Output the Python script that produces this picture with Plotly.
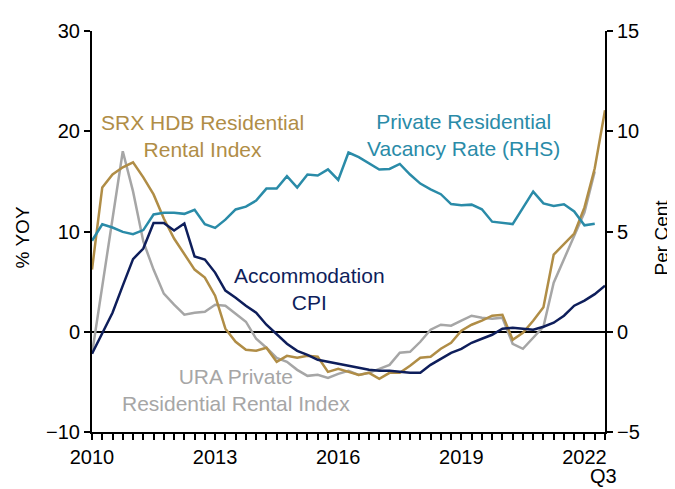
import plotly.graph_objects as go

# quarterly data, 2010Q1 .. 2022Q3
quarters = [f"{y}Q{q}" for y in range(2010, 2023) for q in range(1, 5)][:51]

srx_hdb = [6.2, 14.4, 15.7, 16.4, 16.9, 15.4, 13.7, 11.3, 9.3, 7.7,
           6.2, 5.4, 3.6, 0.3, -1.0, -1.8, -1.9, -1.6, -3.0, -2.4,
           -2.6, -2.4, -2.5, -4.0, -3.7, -4.0, -4.3, -4.1, -4.7, -4.1,
           -4.1, -3.4, -2.6, -2.5, -1.7, -1.1, 0.1, 0.7, 1.1, 1.6,
           1.7, -0.8, -0.1, 1.1, 2.45, 7.7, 8.8, 9.8, 12.4, 16.3,
           22.1]

accom_cpi = [-2.2, -0.1, 1.9, 4.6, 7.25, 8.3, 10.85, 10.85, 10.1, 10.8,
             7.5, 7.2, 5.9, 4.1, 3.4, 2.6, 1.9, 0.7, -0.3, -1.2,
             -1.9, -2.3, -2.8, -3.0, -3.2, -3.4, -3.6, -3.8, -3.9, -3.9,
             -4.0, -4.1, -4.1, -3.3, -2.7, -2.1, -1.7, -1.1, -0.7, -0.3,
             0.3, 0.4, 0.3, 0.2, 0.5, 0.9, 1.6, 2.6, 3.1, 3.75,
             4.6]

ura_private = [-2.2, 4.5, 11.5, 18.0, 14.0, 9.0, 6.2, 3.8, 2.7, 1.7,
               1.9, 2.0, 2.7, 2.6, 1.8, 1.0, -0.7, -1.6, -2.6, -3.0,
               -3.8, -4.4, -4.3, -4.6, -4.2, -3.9, -4.3, -4.1, -3.7, -3.3,
               -2.1, -2.0, -1.0, 0.2, 0.7, 0.6, 1.1, 1.6, 1.4, 1.3,
               1.4, -1.2, -1.7, -0.6, 0.5, 4.9, 7.2, 9.6, 11.9, 16.0]

vacancy = [4.54, 5.36, 5.2, 4.98, 4.87, 5.07, 5.85, 5.93, 5.93, 5.88,
           6.08, 5.36, 5.18, 5.59, 6.1, 6.24, 6.54, 7.14, 7.14, 7.76,
           7.19, 7.84, 7.79, 8.1, 7.57, 8.94, 8.71, 8.41, 8.09, 8.12,
           8.37, 7.84, 7.39, 7.1, 6.86, 6.37, 6.31, 6.34, 6.11, 5.49,
           5.42, 5.37, 6.18, 6.99, 6.4, 6.27, 6.36, 6.0, 5.31, 5.39]

year_ticks = [2010, 2013, 2016, 2019, 2022]

# quarter label -> fractional year for the numeric x axis
x = [int(q[:4]) + (int(q[-1]) - 1) / 4 for q in quarters]

GOLD = '#B08D46'
TEAL = '#2A8BA8'
NAVY = '#0E1E5B'
GRAY = '#A6A6A6'
FONT = 'Liberation Sans, Arial, sans-serif'

# page body has an 8px margin, so the figure is 8px smaller than the window
L, T, PW, PH = 84, 16, 513, 408

fig = go.Figure()

fig.add_trace(go.Scatter(x=x[:len(vacancy)], y=vacancy, mode='lines', yaxis='y2',
                         line=dict(color=TEAL, width=2.5), name='Vacancy'))
fig.add_trace(go.Scatter(x=x[:len(ura_private)], y=ura_private, mode='lines',
                         line=dict(color=GRAY, width=2.5), name='URA'))
fig.add_trace(go.Scatter(x=x, y=srx_hdb, mode='lines',
                         line=dict(color=GOLD, width=2.5), name='SRX'))
fig.add_trace(go.Scatter(x=x, y=accom_cpi, mode='lines',
                         line=dict(color=NAVY, width=2.5), name='CPI'))

fig.update_layout(
    width=667, height=481,
    margin=dict(l=L, r=667 - L - PW, t=T, b=481 - T - PH),
    plot_bgcolor='white', paper_bgcolor='white',
    showlegend=False,
    font=dict(family=FONT, size=20, color='black'),
    xaxis=dict(
        range=[2010, 2022.5],
        tickvals=year_ticks,
        ticktext=[str(v) for v in year_ticks],
        ticks='outside', ticklen=6, tickwidth=1.5, tickcolor='black',
        minor=dict(ticks='outside', dtick=0.25, tick0=2010, ticklen=6,
                   tickwidth=1.5, tickcolor='black'),
        showline=True, linecolor='black', linewidth=2,
        showgrid=False, zeroline=False,
        tickfont=dict(size=20),
    ),
    yaxis=dict(
        range=[-10, 30], dtick=10,
        ticks='outside', ticklen=6, tickwidth=1.5, tickcolor='black',
        showline=True, linecolor='black', linewidth=2,
        showgrid=False,
        zeroline=True, zerolinecolor='black', zerolinewidth=1.5,
        tickfont=dict(size=20),
    ),
    yaxis2=dict(
        range=[-5, 15], dtick=5,
        overlaying='y', side='right',
        ticks='outside', ticklen=6, tickwidth=1.5, tickcolor='black',
        showline=True, linecolor='black', linewidth=2,
        showgrid=False, zeroline=False,
        tickfont=dict(size=20),
    ),
)


def paper_x(px):
    return (px - 92) / PW


def paper_y(py):
    return (432 - py) / PH


# series labels (centres in window pixels)
labels = [
    ("SRX HDB Residential<br>Rental Index", GOLD, 202, 131),
    ("Private Residential<br>Vacancy Rate (RHS)", TEAL, 463, 130),
    ("Accommodation<br>CPI", NAVY, 309, 287),
    ("URA Private<br>Residential Rental Index", GRAY, 236, 389),
]
for text, color, px_x, px_y in labels:
    fig.add_annotation(text=text, xref='paper', yref='paper',
                       x=paper_x(px_x), y=paper_y(px_y),
                       xanchor='center', yanchor='middle',
                       showarrow=False, align='center',
                       font=dict(size=21, color=color, family=FONT))

# axis titles and the end-quarter marker
fig.add_annotation(text='% YOY', xref='paper', yref='paper',
                   x=paper_x(22), y=paper_y(234), textangle=-90,
                   xanchor='center', yanchor='middle',
                   showarrow=False, font=dict(size=19, family=FONT))
fig.add_annotation(text='Per Cent', xref='paper', yref='paper',
                   x=paper_x(661), y=paper_y(234), textangle=-90,
                   xanchor='center', yanchor='middle',
                   showarrow=False, font=dict(size=19, family=FONT))
fig.add_annotation(text='Q3', xref='paper', yref='paper',
                   x=paper_x(603), y=paper_y(477),
                   xanchor='center', yanchor='middle',
                   showarrow=False, font=dict(size=20, family=FONT))

fig.write_html("out.html")
